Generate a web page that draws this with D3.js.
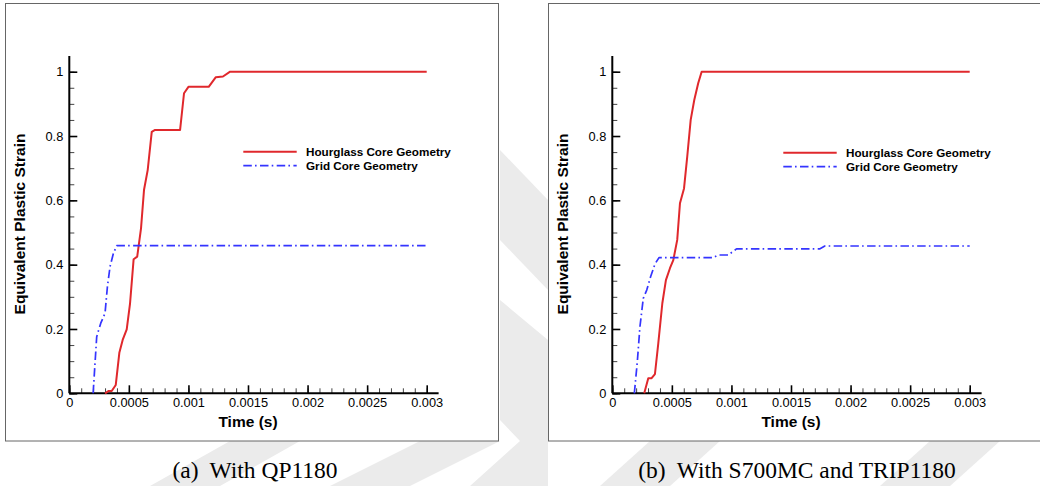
<!DOCTYPE html>
<html>
<head>
<meta charset="utf-8">
<script src="https://cdn.jsdelivr.net/npm/d3@7"></script>
<style>
  html, body { margin: 0; padding: 0; background: #fff; }
  svg { display: block; }
  text { font-family: "Liberation Sans", Arial, sans-serif; }
  .caption { font-family: "Liberation Serif", "Times New Roman", serif; }
</style>
</head>
<body>
<svg id="chart" width="1040" height="486"></svg>
<script>
// time (s) / strain pairs
const hourglassA_t = [0.0003, 0.000328, 0.000356, 0.00039, 0.00042, 0.000448, 0.000482, 0.00051, 0.00054, 0.00057, 0.000602, 0.000627, 0.000658, 0.000692, 0.00072, 0.00093, 0.000963, 0.001, 0.00117, 0.00123, 0.00129, 0.00135, 0.003];
const hourglassA_y = [0, 0.007, 0.007, 0.026, 0.126, 0.166, 0.199, 0.28, 0.417, 0.425, 0.513, 0.632, 0.694, 0.813, 0.819, 0.819, 0.933, 0.953, 0.953, 0.983, 0.985, 1, 1];
const gridA_t = [0.0002, 0.00023, 0.000264, 0.0003, 0.00032, 0.000342, 0.00037, 0.000398, 0.003];
const gridA_y = [0, 0.176, 0.218, 0.249, 0.332, 0.394, 0.435, 0.459, 0.459];

const hourglassB_t = [0.000268, 0.000302, 0.00033, 0.000358, 0.000386, 0.00042, 0.00045, 0.000484, 0.000512, 0.000545, 0.000568, 0.000602, 0.000629, 0.000658, 0.000688, 0.000721, 0.00075, 0.003];
const hourglassB_y = [0, 0.047, 0.047, 0.06, 0.155, 0.28, 0.352, 0.389, 0.414, 0.477, 0.591, 0.637, 0.736, 0.85, 0.912, 0.964, 1, 1];
const gridB_t = [0.000185, 0.00021, 0.000232, 0.00026, 0.000289, 0.000322, 0.000358, 0.000392, 0.000847, 0.00089, 0.000973, 0.001043, 0.00174, 0.001784, 0.003];
const gridB_y = [0, 0.098, 0.207, 0.295, 0.321, 0.363, 0.402, 0.422, 0.422, 0.43, 0.43, 0.449, 0.449, 0.458, 0.458];

const xTicks = [0, 0.0005, 0.001, 0.0015, 0.002, 0.0025, 0.003];
const xTickLabels = ['0', '0.0005', '0.001', '0.0015', '0.002', '0.0025', '0.003'];
const yTicks = [0, 0.2, 0.4, 0.6, 0.8, 1];
const yTickLabels = ['0', '0.2', '0.4', '0.6', '0.8', '1'];
const seriesNames = ['Hourglass Core Geometry', 'Grid Core Geometry'];
const captions = [['(a)', 'With QP1180'], ['(b)', 'With S700MC and TRIP1180']];

const red = '#e0282c', blue = '#3434ff';
const svg = d3.select('#chart');

// faint watermark behind the panels
const wm = svg.append('g').attr('fill', '#ebebeb');
[
  [[150, 486], [230, 441], [300, 441], [220, 486]],
  [[330, 486], [420, 441], [500, 441], [410, 486]],
  [[500, 150], [548, 200], [548, 290], [500, 240]],
  [[500, 300], [548, 340], [548, 486], [470, 486], [520, 441], [500, 420]],
  [[600, 486], [650, 441], [720, 441], [670, 486]],
  [[880, 486], [930, 441], [1000, 441], [950, 486]]
].forEach(p => wm.append('polygon').attr('points', p.join(' ')));

const panels = [
  { x0: 69.3, frame: [5.5, 3.5, 493, 437.5], legX: 174, legY: 151.7, capX: 255,
    series: [[hourglassA_t, hourglassA_y], [gridA_t, gridA_y]] },
  { x0: 612.3, frame: [548.5, 3.5, 500, 437.5], legX: 171, legY: 152.7, capX: 797,
    series: [[hourglassB_t, hourglassB_y], [gridB_t, gridB_y]] }
];

const yScale = d3.scaleLinear().domain([0, 1]).range([393.3, 71.7]);

panels.forEach((p, pi) => {
  const g = svg.append('g');
  g.append('rect')
    .attr('x', p.frame[0]).attr('y', p.frame[1])
    .attr('width', p.frame[2]).attr('height', p.frame[3])
    .attr('fill', '#fff').attr('stroke', '#666').attr('stroke-width', 1);

  const x = d3.scaleLinear().domain([0, 0.003]).range([p.x0, p.x0 + 357.4]);
  const y = yScale;

  // minor ticks
  g.append('g').attr('transform', `translate(0,${y(0)})`)
    .call(d3.axisBottom(x).tickValues(d3.range(31).map(i => i * 0.0001)).tickSize(-5).tickFormat(''))
    .call(a => a.select('.domain').remove())
    .call(a => a.selectAll('line').attr('stroke', '#444'));
  g.append('g').attr('transform', `translate(${p.x0},0)`)
    .call(d3.axisLeft(y).tickValues(d3.range(21).map(i => i * 0.05)).tickSize(-5).tickFormat(''))
    .call(a => a.select('.domain').remove())
    .call(a => a.selectAll('line').attr('stroke', '#444'));

  // major ticks + labels
  g.append('g').attr('transform', `translate(0,${y(0)})`)
    .call(d3.axisBottom(x).tickValues(xTicks).tickSize(-8).tickPadding(5)
      .tickFormat((d, i) => xTickLabels[i]))
    .call(a => a.select('.domain').remove())
    .call(a => a.selectAll('line').attr('stroke', '#000').attr('stroke-width', 1.6))
    .call(a => a.selectAll('text').attr('font-size', 12.8).attr('fill', '#000')
      .attr('font-family', '"Liberation Sans", Arial, sans-serif'));
  g.append('g').attr('transform', `translate(${p.x0},0)`)
    .call(d3.axisLeft(y).tickValues(yTicks).tickSize(-8).tickPadding(6)
      .tickFormat((d, i) => yTickLabels[i]))
    .call(a => a.select('.domain').remove())
    .call(a => a.selectAll('line').attr('stroke', '#000').attr('stroke-width', 1.6))
    .call(a => a.selectAll('text').attr('font-size', 12.8).attr('fill', '#000')
      .attr('font-family', '"Liberation Sans", Arial, sans-serif'));

  // axis lines, drawn a bit past the last tick as in the original
  g.append('line').attr('x1', p.x0).attr('x2', x(0.0031)).attr('y1', y(0)).attr('y2', y(0))
    .attr('stroke', '#000').attr('stroke-width', 2);
  g.append('line').attr('x1', p.x0).attr('x2', p.x0).attr('y1', y(0)).attr('y2', y(1.049))
    .attr('stroke', '#000').attr('stroke-width', 2);

  // axis titles
  g.append('text').attr('x', (x(0) + x(0.003)) / 2).attr('y', 426.5)
    .attr('text-anchor', 'middle').attr('font-weight', 'bold').attr('font-size', 15.5)
    .text('Time (s)');
  g.append('text')
    .attr('transform', `translate(${p.x0 - 44.5},${224}) rotate(-90)`)
    .attr('text-anchor', 'middle').attr('font-weight', 'bold').attr('font-size', 15.5)
    .text('Equivalent Plastic Strain');

  // curves
  const line = d3.line().x(d => x(d[0])).y(d => y(d[1]));
  const styles = [
    { stroke: red, width: 2, dash: null },
    { stroke: blue, width: 1.7, dash: '8.5,3.2,1.6,3.4' }
  ];
  p.series.forEach((s, si) => {
    const pts = s[0].map((t, i) => [t, s[1][i]]);
    g.append('path').datum(pts).attr('d', line)
      .attr('fill', 'none').attr('stroke', styles[si].stroke)
      .attr('stroke-width', styles[si].width)
      .attr('stroke-dasharray', styles[si].dash)
      .attr('stroke-linejoin', 'round');
  });

  // legend
  seriesNames.forEach((name, si) => {
    const ly = p.legY + si * 14;
    g.append('line')
      .attr('x1', p.x0 + p.legX).attr('x2', p.x0 + p.legX + 53.4)
      .attr('y1', ly).attr('y2', ly)
      .attr('stroke', styles[si].stroke).attr('stroke-width', styles[si].width)
      .attr('stroke-dasharray', styles[si].dash);
    g.append('text').attr('x', p.x0 + p.legX + 62.7).attr('y', ly + 4.2)
      .attr('font-weight', 'bold').attr('font-size', 11.7)
      .text(name);
  });

  // caption
  const cap = svg.append('text').attr('class', 'caption')
    .attr('x', p.capX).attr('y', 478.3).attr('text-anchor', 'middle')
    .attr('font-size', 23.5).attr('fill', '#000');
  cap.append('tspan').text(captions[pi][0]);
  cap.append('tspan').attr('dx', 11).text(captions[pi][1]);
});
</script>
</body>
</html>
